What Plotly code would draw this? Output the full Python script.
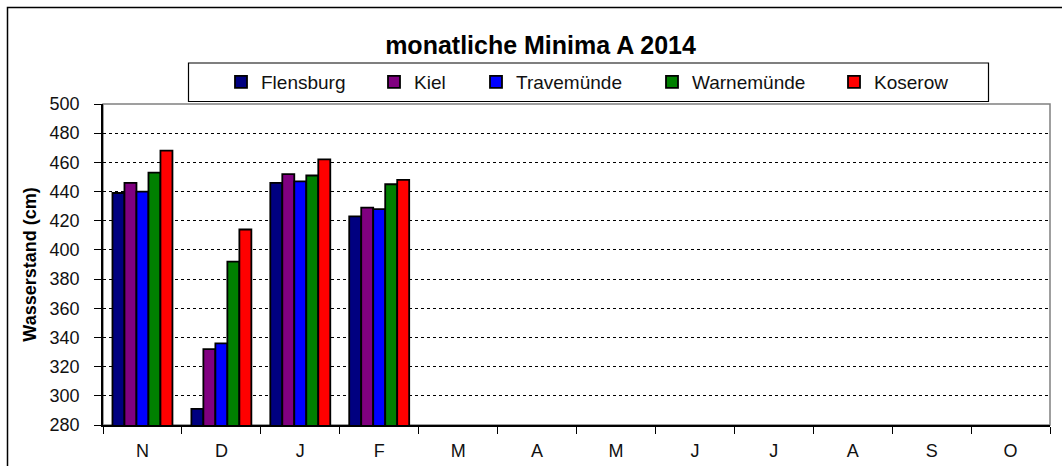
import plotly.graph_objects as go

months = ["Nov", "Dez", "Jan", "Feb", "Mär", "Apr", "Mai", "Jun", "Jul", "Aug", "Sep", "Okt"]
month_labels = ["N", "D", "J", "F", "M", "A", "M", "J", "J", "A", "S", "O"]
data_months = ["Nov", "Dez", "Jan", "Feb"]

flensburg = [439, 291, 446, 423]
kiel = [446, 332, 452, 429]
travemuende = [440, 336, 447, 428]
warnemuende = [453, 392, 451, 445]
koserow = [468, 414, 462, 448]

series = [
    ("Flensburg", flensburg, "#000080"),
    ("Kiel", kiel, "#800080"),
    ("Travemünde", travemuende, "#0000FF"),
    ("Warnemünde", warnemuende, "#008000"),
    ("Koserow", koserow, "#FF0000"),
]
# x position (px) of each legend swatch centre in the reference
legend_swatch_x = [246, 399, 501, 677, 859]

FONT = "Liberation Sans, Arial, sans-serif"

W, H = 1062, 466
L, R, T, B = 103, 12, 104, 41
pw, ph = W - L - R, H - T - B


def px_x(x):
    return (x - L) / pw


def px_y(y):
    return (H - B - y) / ph


fig = go.Figure()
legend_layouts = {}
for i, (name, vals, col) in enumerate(series):
    lg = "legend" if i == 0 else f"legend{i + 1}"
    fig.add_trace(go.Bar(
        x=data_months, y=vals, name=name, legend=lg,
        marker=dict(color=col, line=dict(color="black", width=1.8)),
    ))
    legend_layouts[lg] = dict(
        orientation="h", x=px_x(legend_swatch_x[i] - 5 - 20), xanchor="left",
        y=px_y(82), yanchor="middle", bgcolor="rgba(0,0,0,0)", borderwidth=0,
        font=dict(size=19, family=FONT, color="#111111"), itemwidth=30,
    )

shapes = [
    # plot area border (gray)
    dict(type="rect", xref="paper", yref="paper", x0=0, x1=1, y0=0, y1=1,
         line=dict(color="#808080", width=1.5), layer="below"),
    # outer chart frame
    dict(type="rect", xref="paper", yref="paper", x0=px_x(7.5), x1=px_x(1080),
         y0=px_y(490), y1=px_y(7.5), line=dict(color="black", width=1.5), layer="below"),
    # legend box
    dict(type="rect", xref="paper", yref="paper", x0=px_x(188.5), x1=px_x(988.5),
         y0=px_y(101.5), y1=px_y(63), line=dict(color="black", width=1.2),
         fillcolor="white", layer="below"),
]

fig.update_layout(
    width=W, height=H,
    margin=dict(l=L, r=R, t=T, b=B, autoexpand=False),
    paper_bgcolor="white", plot_bgcolor="white",
    barmode="group", bargap=0.24, bargroupgap=0,
    font=dict(family=FONT, size=18, color="black"),
    title=dict(text="<b>monatliche Minima A 2014</b>", x=540.5 / W, xanchor="center",
               xref="container", y=1 - 45 / H, yanchor="middle",
               font=dict(size=25, family=FONT)),
    shapes=shapes,
    showlegend=True,
    **legend_layouts,
)

fig.update_xaxes(
    type="category", categoryorder="array", categoryarray=months,
    range=[-0.5, 11.5], tickmode="array", tickvals=months, ticktext=month_labels,
    tickson="boundaries", ticks="outside", ticklen=7, tickcolor="black", tickwidth=1.2,
    showline=True, linecolor="black", linewidth=1.5, showgrid=False,
    tickfont=dict(size=18, color="#111111"), automargin=False, ticklabelstandoff=9,
)
fig.update_yaxes(
    range=[280, 500], dtick=20, tick0=280, ticks="outside", ticklen=7, tickcolor="black",
    tickwidth=1.2,
    showline=True, linecolor="black", linewidth=1.5,
    showgrid=True, gridcolor="black", griddash="dot", gridwidth=1,
    tickfont=dict(size=18, color="#111111"), automargin=False, ticklabelstandoff=11,
    title=dict(text="<b>Wasserstand (cm)</b>", font=dict(size=18), standoff=8),
)

fig.write_html("out.html", config={"displayModeBar": False},
               post_script="document.body.style.margin='0px';")
